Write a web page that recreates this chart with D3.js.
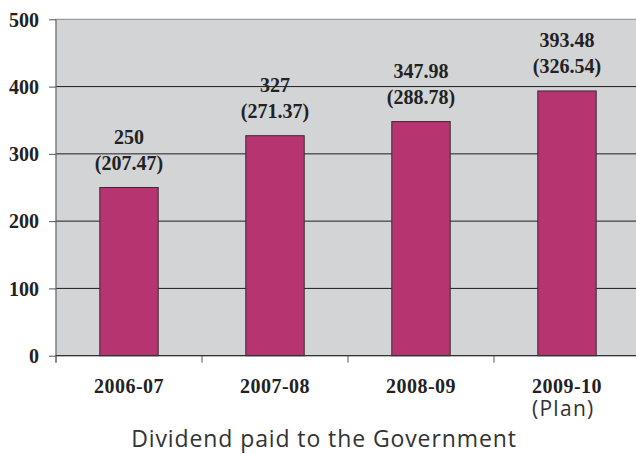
<!DOCTYPE html>
<html><head><meta charset="utf-8">
<script src="https://cdn.jsdelivr.net/npm/d3@7/dist/d3.min.js"></script>
<style>
html,body{margin:0;padding:0;background:#fff;}
svg{display:block;}
</style>
</head><body>
<svg id="chart" width="636" height="454"></svg>
<script>
const categories = ["2006-07", "2007-08", "2008-09", "2009-10"];
const values = [250, 327, 347.98, 393.48];
const valueLabels = ["250", "327", "347.98", "393.48"];
const subLabels = ["(207.47)", "(271.37)", "(288.78)", "(326.54)"];
const yTicks = [0, 100, 200, 300, 400, 500];
const planNote = "(Plan)";
const title = "Dividend paid to the Government";

(function () {
const svg = d3.select("#chart");
const pL = 56, pR = 640, pT = 19.3, pB = 355.7;

const x = d3.scaleBand().domain(categories).range([pL, pR]).paddingInner(0.6).paddingOuter(0.3);
const y = d3.scaleLinear().domain([0, 500]).range([pB, pT]);

// plot background
svg.append("rect").attr("x", pL).attr("y", pT).attr("width", pR - pL).attr("height", pB - pT)
  .attr("fill", "#d3d4d6").attr("stroke", "#8a8a8a").attr("stroke-width", 1);

// gridlines
svg.append("g").selectAll("line").data(yTicks.filter(d => d > 0 && d < 500)).join("line")
  .attr("x1", pL).attr("x2", pR).attr("y1", d => y(d)).attr("y2", d => y(d))
  .attr("stroke", "#1e1e1e").attr("stroke-width", 1);

// bars
svg.append("g").selectAll("rect").data(values).join("rect")
  .attr("x", (d, i) => x(categories[i])).attr("width", x.bandwidth())
  .attr("y", d => y(d)).attr("height", d => y(0) - y(d))
  .attr("fill", "#b63571").attr("stroke", "#3b2a32").attr("stroke-width", 1);

// y axis
const yAxis = d3.axisLeft(y).tickValues(yTicks).tickSize(7).tickPadding(10).tickFormat(d3.format("d"));
const gy = svg.append("g").attr("transform", `translate(${pL},0)`).call(yAxis);
gy.select(".domain").attr("stroke", "#777").attr("d", `M0,${pT}V${pB + 7}`);
gy.selectAll(".tick line").attr("stroke", "#555");
gy.selectAll(".tick text").attr("font-family", "'Liberation Serif','Times New Roman',serif")
  .attr("font-weight", "bold").attr("font-size", 20).attr("fill", "#222").attr("dy", "0.34em");

// x axis line and boundary ticks
const boundaries = categories.map(c => x(c) - x.step() * 0.3).concat([pR]);
svg.append("line").attr("x1", pL).attr("x2", pR).attr("y1", pB).attr("y2", pB)
  .attr("stroke", "#333").attr("stroke-width", 1.2);
svg.append("g").selectAll("line").data(boundaries).join("line")
  .attr("x1", d => d).attr("x2", d => d).attr("y1", pB).attr("y2", pB + 7)
  .attr("stroke", "#555");

// category labels
const catText = svg.append("g").selectAll("text").data(categories).join("text")
  .attr("x", d => x(d) + x.bandwidth() / 2).attr("y", 393)
  .attr("text-anchor", "middle")
  .attr("font-family", "'Liberation Serif','Times New Roman',serif")
  .attr("font-weight", "bold").attr("font-size", 20).attr("fill", "#222")
  .attr("letter-spacing", 0.5)
  .text(d => d);

// (Plan) note aligned to start of last label
const lastNode = catText.nodes()[categories.length - 1];
const bb = lastNode.getBBox();
svg.append("text").attr("x", bb.x).attr("y", 416)
  .attr("font-family", "'Open Sans',sans-serif").attr("font-size", 21).attr("fill", "#333")
  .attr("letter-spacing", 1.3)
  .text(planNote);

// value labels
const lab = svg.append("g");
lab.selectAll("text.v").data(values).join("text").attr("class", "v")
  .attr("x", (d, i) => x(categories[i]) + x.bandwidth() / 2).attr("y", d => y(d) - 44)
  .attr("text-anchor", "middle")
  .attr("font-family", "'Liberation Serif','Times New Roman',serif")
  .attr("font-weight", "bold").attr("font-size", 20).attr("fill", "#222")
  .text((d, i) => valueLabels[i]);
lab.selectAll("text.s").data(values).join("text").attr("class", "s")
  .attr("x", (d, i) => x(categories[i]) + x.bandwidth() / 2).attr("y", d => y(d) - 18)
  .attr("text-anchor", "middle")
  .attr("font-family", "'Liberation Serif','Times New Roman',serif")
  .attr("font-weight", "bold").attr("font-size", 20).attr("fill", "#222")
  .text((d, i) => subLabels[i]);

// title
svg.append("text").attr("x", 324).attr("y", 447)
  .attr("text-anchor", "middle")
  .attr("font-family", "'Open Sans',sans-serif").attr("font-size", 23).attr("fill", "#333")
  .attr("letter-spacing", 0.9)
  .text(title);
})();
</script>
</body></html>
